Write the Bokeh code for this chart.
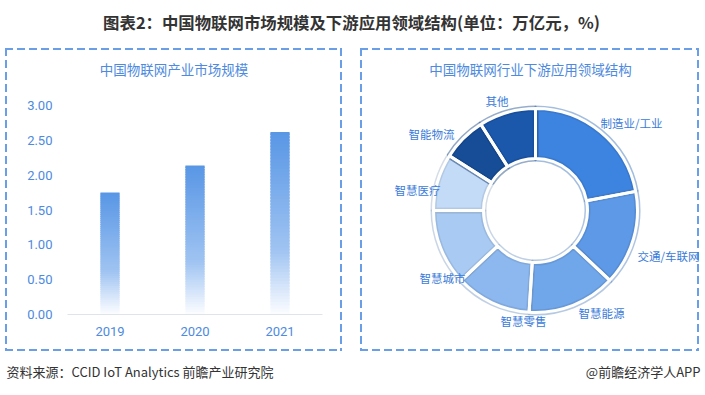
import numpy as np
from bokeh.plotting import figure
from bokeh.models import Range1d, FixedTicker, PrintfTickFormatter, ColumnDataSource
from bokeh.layouts import column, row
from bokeh.core.properties import value
from bokeh.embed import file_html
from bokeh.resources import INLINE

# ---------------- data ----------------
years = ["2019", "2020", "2021"]
market_size = [1.75, 2.14, 2.62]
y_ticks = [0.0, 0.5, 1.0, 1.5, 2.0, 2.5, 3.0]
y_axis_max = 3.0

segments = ["制造业/工业", "交通/车联网", "智慧能源", "智慧零售", "智慧城市", "智慧医疗", "智能物流", "其他"]
shares = [22, 15, 14, 12, 12, 9, 7, 9]

main_title = "图表2：中国物联网市场规模及下游应用领域结构(单位：万亿元，%)"
left_title = "中国物联网产业市场规模"
right_title = "中国物联网行业下游应用领域结构"
source_text = "资料来源：CCID IoT Analytics 前瞻产业研究院"
brand_text = "@前瞻经济学人APP"

# ---------------- styles ----------------
CJK = "Noto Sans CJK SC"
W = 704
TITLE_H, PANEL_H, FOOT_H = 44, 310, 39
LEFT_W, RIGHT_W = 353, 351
BOX_COLOR = "#6a9fe8"
TXT_BLUE = "#4d8ae0"
seg_colors = ["#3d84e0", "#5d99e6", "#70a6ea", "#8cb8ef", "#a8caf3", "#c4dbf7", "#174d97", "#1b57aa"]
# label anchor offsets from donut centre (px) and alignment
label_off = [(65, 88, "left"), (102, -45, "left"), (43, -102, "left"), (-35, -110, "left"),
             (-70, -67, "right"), (-95, 21, "right"), (-81, 77, "right"), (-27, 110, "right")]


def dash_css(x1, y1, x2, y2, c=BOX_COLOR, lw=2, d=8, g=4):
    w, h = x2 - x1, y2 - y1
    hg = f"repeating-linear-gradient(to right, {c} 0px, {c} {d}px, transparent {d}px, transparent {d + g}px)"
    vg = f"repeating-linear-gradient(to bottom, {c} 0px, {c} {d}px, transparent {d}px, transparent {d + g}px)"
    return {
        "background-image": ", ".join([hg, hg, vg, vg]),
        "background-size": f"{w}px {lw}px, {w}px {lw}px, {lw}px {h}px, {lw}px {h}px",
        "background-position": f"{x1}px {y1}px, {x1}px {y2 - lw}px, {x1}px {y1}px, {x2 - lw}px {y1}px",
        "background-repeat": "no-repeat",
        "background-color": "white",
    }


def transparent(f):
    f.background_fill_alpha = 0
    f.border_fill_alpha = 0
    f.outline_line_color = None
    f.frame_align = False


def blank(w, h):
    f = figure(width=w, height=h, x_range=Range1d(0, w), y_range=Range1d(0, h),
               output_backend="svg", toolbar_location=None, min_border=0)
    f.axis.visible = False
    f.grid.visible = False
    transparent(f)
    return f


# ---------------- title ----------------
ft = blank(W, TITLE_H)
ft.text(x=[351], y=[TITLE_H - 21], text=[main_title], text_align="center",
        text_baseline="middle", text_font=value(CJK), text_font_style="bold",
        text_font_size="16.4px", text_color="#333333")

# ---------------- left: bar chart ----------------
# frame geometry (px inside the panel): value 0 at 270 from top, 3.00 at 61 from top
B_TOP, B_BOTTOM = 10, 40
px_per_unit = (270 - 61) / y_axis_max
y_end = (PANEL_H - B_TOP - B_BOTTOM) / px_per_unit
pl = figure(width=LEFT_W, height=PANEL_H, x_range=years, y_range=Range1d(0, y_end),
            output_backend="svg", toolbar_location=None,
            min_border_left=67, min_border_right=31, min_border_top=B_TOP, min_border_bottom=B_BOTTOM)
transparent(pl)
pl.grid.visible = False

N = 60
stops_t = [0.0, 0.12, 0.35, 1.0]
stops_c = np.array([[252, 253, 255], [222, 234, 251], [160, 196, 242], [88, 150, 229]], dtype=float)
xs, bots, tops, cols = [], [], [], []
for yr, v in zip(years, market_size):
    for k in range(N):
        t = (k + 0.5) / N
        c = [np.interp(t, stops_t, stops_c[:, j]) for j in range(3)]
        xs.append(yr)
        bots.append(v * k / N)
        tops.append(min(v, v * (k + 1.6) / N))
        cols.append("#%02x%02x%02x" % tuple(int(round(q)) for q in c))
pl.vbar(x=xs, bottom=bots, top=tops, width=0.225, fill_color=cols, line_color=None)

pl.yaxis.ticker = FixedTicker(ticks=y_ticks)
pl.yaxis.formatter = PrintfTickFormatter(format="%.2f")
pl.yaxis.axis_line_color = None
pl.yaxis.major_tick_line_color = None
pl.yaxis.minor_tick_line_color = None
pl.yaxis.major_label_standoff = 9
pl.xaxis.axis_line_color = "#dfe3ea"
pl.xaxis.major_tick_line_color = None
pl.xaxis.minor_tick_line_color = None
pl.xaxis.major_label_standoff = 6
for ax in (pl.xaxis, pl.yaxis):
    ax.major_label_text_font = "Roboto"
    ax.major_label_text_font_size = "13px"
    ax.major_label_text_color = TXT_BLUE

# panel title (centre 24 px below panel top, 21 px left of middle category)
pl.text(x=[years[1]], y=[(270 - 24) / px_per_unit], text=[left_title], x_offset=-21,
        text_align="center", text_baseline="middle", text_font=value(CJK),
        text_font_size="13.5px", text_color=TXT_BLUE)
pl.styles = dash_css(5, 4, 342, 307)

# ---------------- right: donut ----------------
pr = blank(RIGHT_W, PANEL_H)
cx, cy = 182, 144
R_out, R_in = 102, 52
sh = np.array(shares, dtype=float)
cum = np.concatenate([[0], np.cumsum(sh)]) / sh.sum()
start = np.pi / 2 - cum[:-1] * 2 * np.pi
end = np.pi / 2 - cum[1:] * 2 * np.pi


def darker(h, f=0.82):
    r, g, b = int(h[1:3], 16), int(h[3:5], 16), int(h[5:7], 16)
    return "#%02x%02x%02x" % (int(r * f), int(g * f), int(b * f))


src = ColumnDataSource(dict(start=start, end=end, color=seg_colors,
                            edge=[darker(c) for c in seg_colors]))
pr.annular_wedge(x=cx, y=cy, inner_radius=R_in, outer_radius=R_out, start_angle="start",
                 end_angle="end", direction="clock", fill_color="color", line_color="edge",
                 line_alpha=0.45, line_width=6, source=src)
pr.annular_wedge(x=cx, y=cy, inner_radius=R_in, outer_radius=R_out, start_angle="start",
                 end_angle="end", direction="clock", fill_color=None, line_color="white",
                 line_width=3, source=src)

for name, (dx, dy, al) in zip(segments, label_off):
    pr.text(x=[cx + dx], y=[cy + dy], text=[name], text_align=al, text_baseline="middle",
            text_font=value(CJK), text_font_size="11.5px", text_color="#3a7bd9")

pr.text(x=[177], y=[PANEL_H - 24], text=[right_title], text_align="center", text_baseline="middle",
        text_font=value(CJK), text_font_size="13.5px", text_color=TXT_BLUE)
pr.styles = dash_css(7, 4, 346, 307)

# ---------------- footer ----------------
ff = blank(W, FOOT_H)
ff.text(x=[6], y=[FOOT_H - 17], text=[source_text], text_align="left", text_baseline="middle",
        text_font=value(CJK), text_font_size="13px", text_color="#333333")
ff.text(x=[700], y=[FOOT_H - 17], text=[brand_text], text_align="right", text_baseline="middle",
        text_font=value(CJK), text_font_size="13px", text_color="#333333")

layout = column(ft, row(pl, pr), ff)
open("out.html", "w").write(file_html(layout, INLINE))
